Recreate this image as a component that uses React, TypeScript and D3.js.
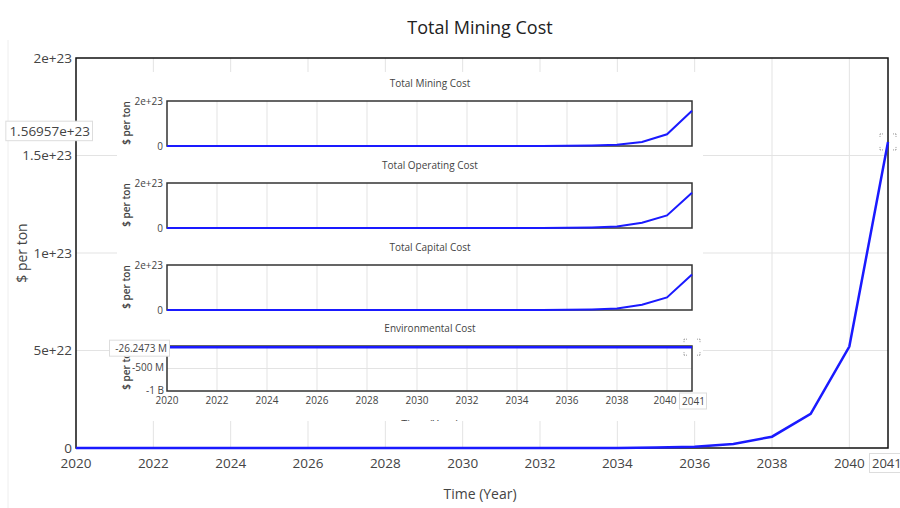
import React from "react";
import * as d3 from "d3";

const years = d3.range(2020, 2042);
const totalMining = [0, 0, 0, 0, 0, 0, 0, 0, 0, 0, 0, 1e18, 3e18, 1e19, 4e19, 2e20, 7e20, 2.1e21, 5.8e21, 1.75e22, 5.2e22, 1.56957e23];
const totalOperating = [0, 0, 0, 0, 0, 0, 0, 0, 0, 0, 0, 1e18, 3e18, 1e19, 4e19, 2e20, 7e20, 2.3e21, 6.2e21, 2.3e22, 5.6e22, 1.57e23];
const totalCapital = [0, 0, 0, 0, 0, 0, 0, 0, 0, 0, 0, 1e18, 3e18, 1e19, 4e19, 2e20, 7e20, 2.3e21, 6.2e21, 2.3e22, 5.6e22, 1.58e23];
const environmental = years.map(() => -26.2473e6);
const mainYTicks = [0, 5e22, 1e23, 1.5e23, 2e23];
const mainYTickLabels = ["0", "5e+22", "1e+23", "1.5e+23", "2e+23"];
const xTicks = d3.range(2020, 2041, 2);
const envYTicks = [-1e9, -5e8];
const envYTickLabels = ["-1 B", "-500 M"];

const FONT = "'Open Sans', 'Noto Sans', sans-serif";
const TXT = "#444";
const GRID = "#e3e3e3";

function Marker({ cx, cy }: { cx: number; cy: number }) {
  const s = 8;
  const d = 3;
  const segs: [number, number, number, number][] = [];
  for (const sx of [-1, 1])
    for (const sy of [-1, 1]) {
      segs.push([cx + sx * s, cy + sy * s, cx + sx * s - sx * d, cy + sy * s]);
      segs.push([cx + sx * s, cy + sy * s, cx + sx * s, cy + sy * s - sy * d]);
    }
  return (
    <g stroke="#999" strokeWidth={1} strokeDasharray="1,1">
      {segs.map((p, i) => (
        <line key={i} x1={p[0]} y1={p[1]} x2={p[2]} y2={p[3]} />
      ))}
    </g>
  );
}

function BoxLabel({ x, y, text, size, anchor }: { x: number; y: number; text: string; size: number; anchor: "start" | "end" | "middle" }) {
  const w = text.length * size * 0.55 + 5;
  const h = size + 6;
  const left = anchor === "start" ? x - 2.5 : anchor === "end" ? x - w + 2.5 : x - w / 2;
  return (
    <g>
      <rect x={left} y={y - h / 2} width={w} height={h} fill="white" stroke="#ddd" strokeWidth={1} />
      <text x={x} y={y} dy="0.35em" textAnchor={anchor} fontSize={size} fill={TXT} fontFamily={FONT}>
        {text}
      </text>
    </g>
  );
}

function SmallPanel({ title, values, top }: { title: string; values: number[]; top: number }) {
  const x = d3.scaleLinear().domain([2020, 2041]).range([167, 692]);
  const y = d3.scaleLinear().domain([0, 2e23]).range([top + 45, top]);
  const line = d3
    .line<number>()
    .x((_, i) => x(years[i]))
    .y((v) => y(v));
  return (
    <g>
      <text x={430} y={top - 14} textAnchor="middle" fontSize={10} fill={TXT} fontFamily={FONT}>
        {title}
      </text>
      {xTicks.slice(1).map((t) => (
        <line key={t} x1={x(t)} x2={x(t)} y1={top} y2={top + 45} stroke={GRID} />
      ))}
      <rect x={167} y={top} width={525} height={45} fill="none" stroke="#333" strokeWidth={1.5} />
      <path d={line(values) || ""} fill="none" stroke="#1a1aff" strokeWidth={2} />
      <text x={163} y={y(2e23)} dy="0.35em" textAnchor="end" fontSize={10} fill={TXT} fontFamily={FONT}>
        2e+23
      </text>
      <text x={163} y={y(0)} dy="0.35em" textAnchor="end" fontSize={10} fill={TXT} fontFamily={FONT}>
        0
      </text>
      <text
        transform={`translate(130,${top + 22}) rotate(-90)`}
        textAnchor="middle"
        fontSize={10}
        fontWeight={600}
        fill={TXT}
        fontFamily={FONT}
      >
        $ per ton
      </text>
    </g>
  );
}

function EnvPanel({ top }: { top: number }) {
  const x = d3.scaleLinear().domain([2020, 2041]).range([167, 692]);
  const y = d3.scaleLinear().domain([-1e9, 0]).range([top + 45, top]);
  const line = d3
    .line<number>()
    .x((_, i) => x(years[i]))
    .y((v) => y(v));
  return (
    <g>
      <text x={430} y={top - 14} textAnchor="middle" fontSize={10} fill={TXT} fontFamily={FONT}>
        Environmental Cost
      </text>
      {xTicks.slice(1).map((t) => (
        <line key={t} x1={x(t)} x2={x(t)} y1={top} y2={top + 45} stroke={GRID} />
      ))}
      <line x1={167} x2={692} y1={y(-5e8)} y2={y(-5e8)} stroke={GRID} />
      <rect x={167} y={top} width={525} height={45} fill="none" stroke="#333" strokeWidth={1.5} />
      <path d={line(environmental) || ""} fill="none" stroke="#1a1aff" strokeWidth={2.5} />
      {envYTicks.map((t, i) => (
        <text key={t} x={164} y={y(t) - 1} dy="0.35em" textAnchor="end" fontSize={10} fill={TXT} fontFamily={FONT}>
          {envYTickLabels[i]}
        </text>
      ))}
      <text
        transform={`translate(130,${top + 22}) rotate(-90)`}
        textAnchor="middle"
        fontSize={10}
        fontWeight={600}
        fill={TXT}
        fontFamily={FONT}
      >
        $ per ton
      </text>
      <BoxLabel x={167} y={y(environmental[0]) + 1} text="-26.2473 M" size={10} anchor="end" />
      {xTicks.map((t) => (
        <text key={t} x={x(t) - (t === 2040 ? 2 : 0)} y={top + 58} textAnchor="middle" fontSize={10} fill={TXT} fontFamily={FONT}>
          {t}
        </text>
      ))}
      <BoxLabel x={682} y={top + 55} text="2041" size={10} anchor="start" />
      <Marker cx={x(2041)} cy={y(environmental[21])} />
      <text x={430} y={top + 82} textAnchor="middle" fontSize={11} fill={TXT} fontFamily={FONT}>
        Time (Year)
      </text>
    </g>
  );
}

export default function App() {
  const W = 900;
  const H = 508;
  const x = d3.scaleLinear().domain([2020, 2041]).range([76, 888]);
  const y = d3.scaleLinear().domain([0, 2e23]).range([448, 58]);
  const line = d3
    .line<number>()
    .x((_, i) => x(years[i]))
    .y((v) => y(v));
  return (
    <svg width={W} height={H} style={{ position: "absolute", left: 0, top: 0, background: "white" }}>
      <rect x={0} y={0} width={W} height={H} fill="white" />
      <line x1={8} x2={8} y1={40} y2={508} stroke="#eee" />
      <text x={480} y={34} textAnchor="middle" fontSize={18} fill="#222" fontFamily={FONT}>
        Total Mining Cost
      </text>
      {mainYTicks.slice(1, 4).map((t) => (
        <line key={t} x1={76} x2={888} y1={y(t)} y2={y(t)} stroke={GRID} />
      ))}
      {xTicks.slice(1).map((t) => (
        <line key={t} x1={x(t)} x2={x(t)} y1={58} y2={448} stroke={GRID} />
      ))}
      <rect x={76} y={58} width={812} height={390} fill="none" stroke="#111" strokeWidth={1.5} />
      <path d={line(totalMining) || ""} fill="none" stroke="#1a1aff" strokeWidth={2.5} />
      {mainYTicks.map((t, i) => (
        <text key={t} x={72} y={y(t)} dy="0.35em" textAnchor="end" fontSize={13.5} fill={TXT} fontFamily={FONT}>
          {mainYTickLabels[i]}
        </text>
      ))}
      {xTicks.map((t) => (
        <text key={t} x={x(t)} y={468} textAnchor="middle" fontSize={13.5} fill={TXT} fontFamily={FONT}>
          {t}
        </text>
      ))}
      <BoxLabel x={x(2041) - 16} y={463} text="2041" size={13} anchor="start" />
      <BoxLabel x={90} y={y(totalMining[21]) - 11} text="1.56957e+23" size={13.5} anchor="end" />
      <Marker cx={x(2041)} cy={y(totalMining[21])} />
      <text x={480} y={499} textAnchor="middle" fontSize={14} fill={TXT} fontFamily={FONT}>
        Time (Year)
      </text>
      <text
        transform={`translate(27,253) rotate(-90)`}
        textAnchor="middle"
        fontSize={14}
        fill={TXT}
        fontFamily={FONT}
      >
        $ per ton
      </text>
      <defs>
        <clipPath id="insetClip">
          <rect x={108} y={72} width={603} height={349} />
        </clipPath>
      </defs>
      <g clipPath="url(#insetClip)">
        <rect x={117} y={72} width={586} height={349} fill="white" />
        <SmallPanel title="Total Mining Cost" values={totalMining} top={101} />
        <SmallPanel title="Total Operating Cost" values={totalOperating} top={183} />
        <SmallPanel title="Total Capital Cost" values={totalCapital} top={265} />
        <EnvPanel top={346} />
      </g>
    </svg>
  );
}
